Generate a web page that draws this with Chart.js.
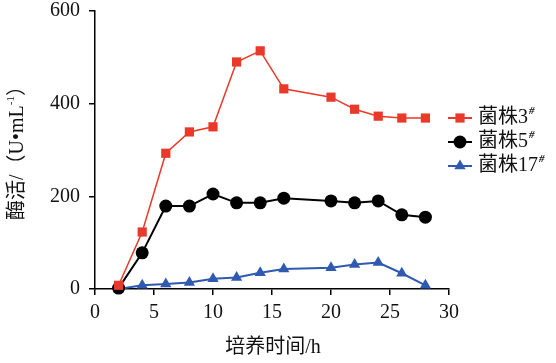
<!DOCTYPE html>
<html>
  <head>
    <meta charset="UTF-8">
    <title>菌株酶活</title>
    <script src="https://cdn.jsdelivr.net/npm/chart.js"></script>
    <style>
      body { margin: 0; background: #fff; }
    </style>
  </head>
  <body>
    <canvas id="chart" width="556" height="363"></canvas>

    <script>
      // 培养时间 (h)
      var hours = [2, 4, 6, 8, 10, 12, 14, 16, 20, 22, 24, 26, 28];
      // 酶活 (U/mL)
      var strain3 = [8, 123, 293, 339, 350, 490, 514, 432, 414, 388, 373, 369, 369];
      var strain5 = [2, 78, 179, 179, 205, 186, 186, 196, 190, 186, 190, 160, 155];
      var strain17 = [0, 8, 11, 14, 22, 25, 35, 43, 46, 53, 57, 34, 8];
      var seriesNames = ['菌株3', '菌株5', '菌株17'];
      var xTicks = [0, 5, 10, 15, 20, 25, 30];
      var yTicks = [0, 200, 400, 600];

      var serif = '"Liberation Serif", "Times New Roman", "Noto Sans CJK SC", serif';
      var red = '#e8392b', black = '#000000', blue = '#3059b0';

      function toPoints(vals) {
        var pts = [];
        for (var i = 0; i < hours.length; i++) pts.push({ x: hours[i], y: vals[i] });
        return pts;
      }

      // 凡例と軸タイトルを描く
      var extras = {
        id: 'extras',
        afterDraw: function (chart) {
          var ctx = chart.ctx;
          ctx.save();
          ctx.fillStyle = '#111';
          ctx.textBaseline = 'middle';

          // 凡例
          var ds = chart.data.datasets;
          var rowsY = [118, 142, 166];
          for (var i = 0; i < ds.length; i++) {
            var y = rowsY[i];
            ctx.strokeStyle = ds[i].borderColor;
            ctx.lineWidth = 2;
            ctx.beginPath();
            ctx.moveTo(448, y);
            ctx.lineTo(472, y);
            ctx.stroke();
            ctx.fillStyle = ds[i].backgroundColor;
            Chart.helpers.drawPoint(ctx, {
              pointStyle: ds[i].pointStyle,
              radius: ds[i].pointRadius,
              rotation: 0,
              borderWidth: 0
            }, 460, y);
            ctx.fillStyle = '#111';
            ctx.font = '20px ' + serif;
            ctx.textAlign = 'left';
            ctx.fillText(seriesNames[i], 478, y);
            var w = ctx.measureText(seriesNames[i]).width;
            ctx.font = 'bold italic 11px ' + serif;
            ctx.fillText('#', 478 + w + 1, y - 7);
          }

          // x軸タイトル
          ctx.font = '20px ' + serif;
          ctx.textAlign = 'center';
          ctx.fillText('培养时间/h', 273, 348);

          // y軸タイトル
          ctx.translate(18, 148);
          ctx.rotate(-Math.PI / 2);
          var a = '酶活/（U•mL', b = '-1', c = '）';
          ctx.font = '20px ' + serif;
          var wa = ctx.measureText(a).width;
          var wc = ctx.measureText(c).width;
          ctx.font = '11px ' + serif;
          var wb = ctx.measureText(b).width;
          var x0 = -(wa + wb + wc) / 2;
          ctx.textAlign = 'left';
          ctx.font = '20px ' + serif;
          ctx.fillText(a, x0, 0);
          ctx.font = '11px ' + serif;
          ctx.fillText(b, x0 + wa, -7);
          ctx.font = '20px ' + serif;
          ctx.fillText(c, x0 + wa + wb, 0);
          ctx.restore();
        }
      };

      var ctx = document.getElementById('chart').getContext('2d');
      var chart = new Chart(ctx, {
        type: 'line',
        data: {
          datasets: [
            {
              label: seriesNames[0], data: toPoints(strain3),
              borderColor: red, backgroundColor: red, borderWidth: 1.5,
              pointStyle: 'rect', pointRadius: 6.5, pointBorderWidth: 0
            },
            {
              label: seriesNames[1], data: toPoints(strain5),
              borderColor: black, backgroundColor: black, borderWidth: 2,
              pointStyle: 'circle', pointRadius: 6.5, pointBorderWidth: 0
            },
            {
              label: seriesNames[2], data: toPoints(strain17),
              borderColor: blue, backgroundColor: blue, borderWidth: 2,
              pointStyle: 'triangle', pointRadius: 6.5, pointBorderWidth: 0
            }
          ]
        },
        options: {
          responsive: false,
          animation: false,
          clip: false,
          layout: { padding: { top: 11, right: 107, left: 0, bottom: 0 } },
          plugins: { legend: { display: false }, tooltip: { enabled: false } },
          scales: {
            x: {
              type: 'linear', min: 0, max: 30,
              afterBuildTicks: function (s) { s.ticks = xTicks.map(function (v) { return { value: v }; }); },
              afterFit: function (s) { s.height = 74; s.paddingLeft = 0; s.paddingRight = 0; },
              border: { display: true, color: '#000', width: 1.5 },
              grid: { drawOnChartArea: false, drawTicks: true, tickLength: 6, tickColor: '#000', lineWidth: 1.5 },
              ticks: { color: '#111', padding: 6, maxRotation: 0, font: { family: serif, size: 20 } }
            },
            y: {
              min: 0, max: 600,
              afterBuildTicks: function (s) { s.ticks = yTicks.map(function (v) { return { value: v }; }); },
              afterFit: function (s) { s.width = 95; s.paddingTop = 0; s.paddingBottom = 0; },
              border: { display: true, color: '#000', width: 1.5 },
              grid: { drawOnChartArea: false, drawTicks: true, tickLength: 6, tickColor: '#000', lineWidth: 1.5 },
              ticks: { color: '#111', padding: 9, font: { family: serif, size: 20 } }
            }
          }
        },
        plugins: [extras]
      });
    </script>
  </body>
</html>
